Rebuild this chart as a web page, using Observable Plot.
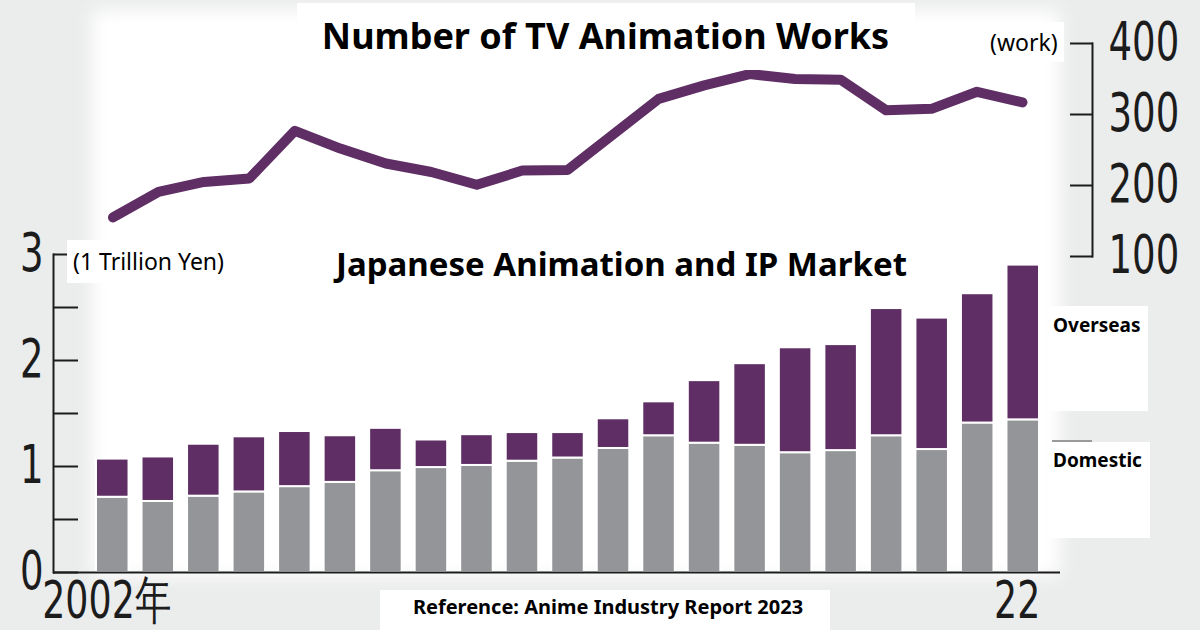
<!DOCTYPE html>
<html><head><meta charset="utf-8">
<script src="https://cdn.jsdelivr.net/npm/d3@7"></script>
<script src="https://cdn.jsdelivr.net/npm/@observablehq/plot@0.6"></script>
<style>
html,body{margin:0;padding:0;background:#ebecec;}
#wrap{position:relative;width:1200px;height:630px;overflow:hidden;background:#ebecec;font-family:"Noto Sans",sans-serif;color:#000;}
.glow{position:absolute;left:92px;top:10px;width:968px;height:566px;background:#fff;filter:blur(9px);}
.layer{position:absolute;left:0;top:0;}
.box{position:absolute;background:#fff;white-space:nowrap;}
.t{position:absolute;white-space:nowrap;line-height:1;}
</style>
</head><body>
<div id="wrap">
  <div class="glow"></div>
  <div id="bars" class="layer"></div>
  <div id="line" class="layer"></div>
  <div class="box" style="left:297px;top:3px;width:618px;height:67px;"></div>
  <div class="t" style="left:0;width:1211px;text-align:center;top:18px;font-size:36px;font-weight:700;">Number of TV Animation Works</div>
  <div class="box" style="left:968px;top:22px;width:96px;height:40px;"></div>
  <div class="t" style="left:990px;top:31px;font-size:23px;">(work)</div>
  <div class="box" style="left:67px;top:240px;width:160px;height:43px;"></div>
  <div class="t" style="left:73px;top:250px;font-size:23px;">(1 Trillion Yen)</div>
  <div class="t" style="left:0;width:1243px;text-align:center;top:247px;font-size:33px;font-weight:700;">Japanese Animation and IP Market</div>
  <div style="position:absolute;left:1052px;top:440px;width:40px;height:1.5px;background:#9a9a9a;"></div>
  <div class="box" style="left:1048px;top:306px;width:100px;height:105px;"></div>
  <div class="t" style="left:1053px;top:316px;font-size:19px;font-weight:700;">Overseas</div>
  <div class="box" style="left:1048px;top:442px;width:102px;height:96px;"></div>
  <div class="t" style="left:1053px;top:451px;font-size:19px;font-weight:700;">Domestic</div>
  <div class="box" style="left:380px;top:590px;width:450px;height:40px;"></div>
  <div class="t" style="left:383px;width:450px;text-align:center;top:597px;font-size:20px;font-weight:700;">Reference: Anime Industry Report 2023</div>
</div>
<script>
// ---- data ----
const years = [2002,2003,2004,2005,2006,2007,2008,2009,2010,2011,2012,2013,2014,2015,2016,2017,2018,2019,2020,2021,2022];
const domestic = [0.71,0.67,0.72,0.76,0.81,0.85,0.96,0.99,1.01,1.05,1.08,1.17,1.29,1.22,1.20,1.13,1.15,1.29,1.16,1.41,1.44];
const overseas = [0.36,0.42,0.49,0.52,0.52,0.44,0.40,0.26,0.29,0.27,0.24,0.28,0.32,0.59,0.77,0.99,1.00,1.20,1.24,1.22,1.46];
const tvWorks = [155,191,205,210,277,252,231,219,201,221,222,272,322,341,357,350,349,306,308,332,317];
const segments = ["Domestic","Overseas"];
const segColors = ["#939598","#5f2e64"];
const marketTicks = [0,0.5,1,1.5,2,2.5,3];
const worksTicks = [100,200,300,400];
const yearLabels = {2002:"2002年", 2022:"22"};

const numFont = '"DejaVu Sans",sans-serif';
const ink = "#1c1c1c";

const barData = years.flatMap((y,i)=>[
  {year:y, seg:segments[0], v:domestic[i]},
  {year:y, seg:segments[1], v:overseas[i]}
]);
const lineData = years.map((y,i)=>({year:y, n:tvWorks[i]}));

// condense the big tick numerals (narrow face like the reference)
function condense(svg, k) {
  d3.select(svg).selectAll('g[aria-label$="tick label"] text').each(function(){
    const t = this.getAttribute("transform") || "";
    this.setAttribute("transform", t + ` scale(${k},1)`);
  });
}

const bars = Plot.plot({
  width:1200, height:630,
  marginTop:254, marginBottom:58, marginLeft:83, marginRight:148,
  style:{background:"transparent", overflow:"visible", fontFamily:numFont},
  x:{type:"band", domain:years, padding:0.2857, round:false},
  y:{domain:[0,3]},
  color:{domain:segments, range:segColors},
  marks:[
    Plot.barY(barData, {x:"year", y:"v", fill:"seg", stroke:"#fff", strokeWidth:2}),
    Plot.frame({anchor:"left", dx:-30, stroke:ink, strokeWidth:2}),
    Plot.ruleY([0], {insetLeft:-30, insetRight:-8, stroke:ink, strokeWidth:2}),
    Plot.axisY({anchor:"left", ticks:marketTicks, tickSize:25, dx:-5, tickPadding:10,
      tickFormat:d=>Number.isInteger(d)?String(d):"", label:null, fontSize:53,
      fontFamily:numFont, color:ink, strokeWidth:2}),
    Plot.axisX({anchor:"bottom", tickSize:0, tickPadding:9, dx:-6, tickFormat:d=>yearLabels[d]||"",
      label:null, fontSize:52, fontFamily:numFont, color:ink})
  ]
});
condense(bars, 0.7);
document.getElementById("bars").appendChild(bars);

const line = Plot.plot({
  width:1200, height:630,
  marginTop:43, marginBottom:374, marginLeft:112, marginRight:108,
  style:{background:"transparent", overflow:"visible", fontFamily:numFont},
  x:{type:"point", domain:years, range:[112.5,1022], padding:0, round:false, axis:null},
  y:{domain:[100,400]},
  marks:[
    Plot.lineY(lineData, {x:"year", y:"n", stroke:"#5f2e64", strokeWidth:10, strokeLinecap:"round", strokeLinejoin:"round"}),
    Plot.frame({anchor:"right", stroke:ink, strokeWidth:2}),
    Plot.axisY({anchor:"right", ticks:worksTicks, tickSize:23, dx:-23, tickPadding:16, label:null,
      fontSize:53, fontFamily:numFont, color:ink, strokeWidth:2})
  ]
});
condense(line, 0.7);
document.getElementById("line").appendChild(line);
</script>
</body></html>
